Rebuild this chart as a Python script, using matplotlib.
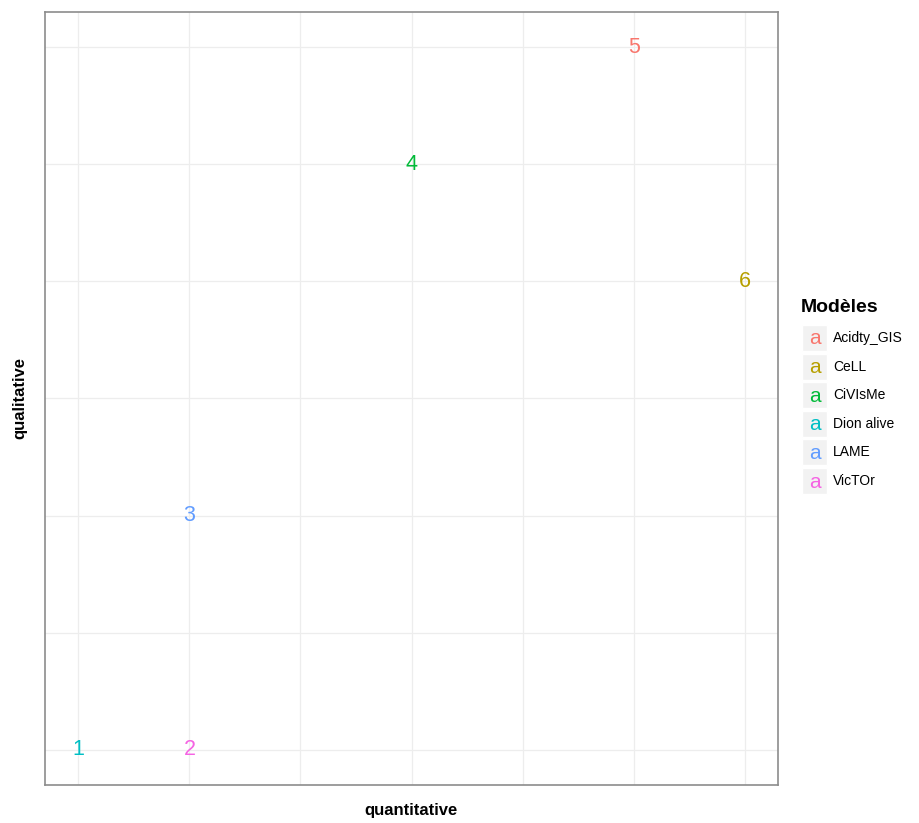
import numpy as np
import matplotlib.pyplot as plt
from matplotlib.patches import Rectangle

# data
labels = ["1", "2", "3", "4", "5", "6"]
models = ["Dion alive", "VicTOr", "LAME", "CiVIsMe", "Acidty_GIS", "CeLL"]
quantitative = [0, 1, 1, 3, 5, 6]
qualitative = [0, 0, 2, 5, 6, 4]

legend_order = ["Acidty_GIS", "CeLL", "CiVIsMe", "Dion alive", "LAME", "VicTOr"]
hue_colors = ["#F8766D", "#B79F00", "#00BA38", "#00BFC4", "#619CFF", "#F564E3"]
color_of = dict(zip(legend_order, hue_colors))

plt.rcParams["font.family"] = ["Liberation Sans", "DejaVu Sans"]

fig = plt.figure(figsize=(9.2, 8.23), dpi=100)
ax = fig.add_axes([0.0489, 0.0462, 0.7968, 0.9392])

for x, y, lab, m in zip(quantitative, qualitative, labels, models):
    ax.text(x, y, lab, color=color_of[m], fontsize=15.5, ha="center", va="center")

ax.set_xlim(-0.3, 6.3)
ax.set_ylim(-0.3, 6.3)
ax.set_xticks(np.arange(0, 7))
ax.set_yticks(np.arange(0, 7))
ax.tick_params(length=0, labelbottom=False, labelleft=False)
ax.grid(True, color="#EDEDED", linewidth=0.9)
ax.set_axisbelow(True)
for s in ax.spines.values():
    s.set_color("#8C8C8C")
    s.set_linewidth(1.2)

fig.text(411 / 920, 1 - 810 / 823, "quantitative", fontsize=12, fontweight="bold",
         ha="center", va="center")
fig.text(20 / 920, 1 - 398 / 823, "qualitative", fontsize=12, fontweight="bold",
         rotation=90, ha="center", va="center")

# legend drawn by hand (ggplot style)
fig.text(801 / 920, 1 - 308 / 823, "Modèles", fontsize=14, fontweight="bold",
         ha="left", va="center")
for i, m in enumerate(legend_order):
    yc = 338 + i * 28.6
    fig.patches.append(Rectangle((802 / 920, 1 - (yc + 13) / 823), 25 / 920, 26 / 823,
                                 transform=fig.transFigure, facecolor="#F2F2F2",
                                 edgecolor="white", linewidth=1))
    fig.text(815 / 920, 1 - (yc + 1) / 823, "a", color=color_of[m], fontsize=15,
             ha="center", va="center")
    fig.text(833 / 920, 1 - yc / 823, m, fontsize=10, ha="left", va="center")

fig.savefig("out.png", dpi=100)
